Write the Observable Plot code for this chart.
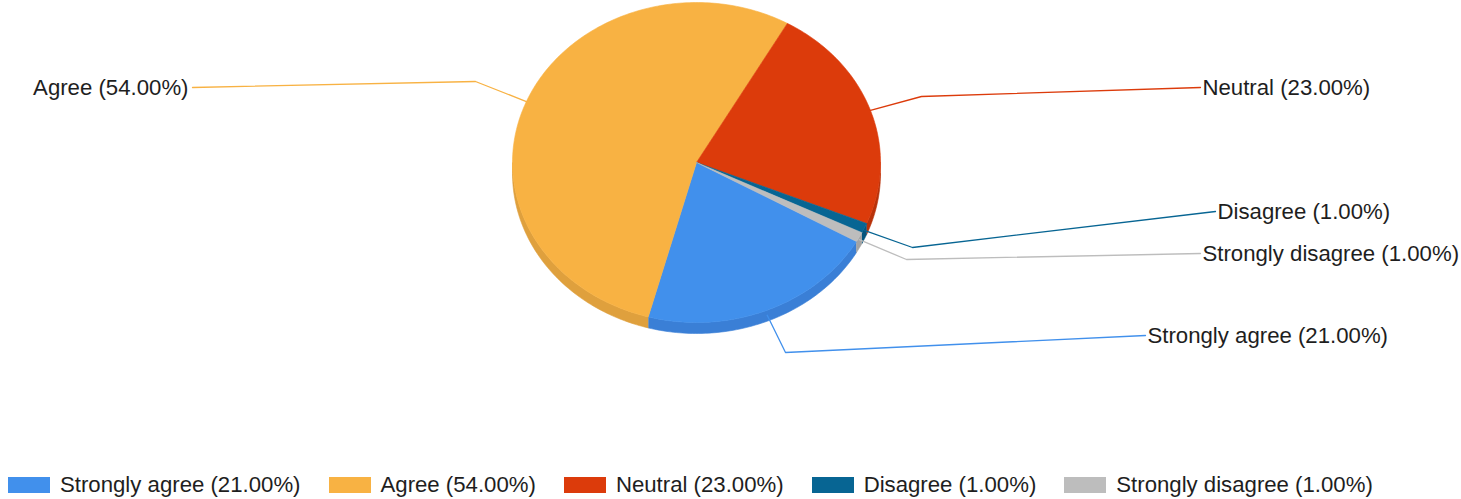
<!DOCTYPE html>
<html><head><meta charset="utf-8">
<script src="https://cdn.jsdelivr.net/npm/d3@7"></script>
<script src="https://cdn.jsdelivr.net/npm/@observablehq/plot@0.6"></script>
<style>
body{margin:0;background:#fff;font-family:"Liberation Sans",Arial,sans-serif;}
#legend{padding-left:8px;}
#legend .lg-swatch{margin-right:28px !important;}
#legend .lg-swatch > svg{margin-right:10px !important;}
</style></head><body><div id="chart"></div><div id="legend"></div>
<script>
// ---- data ----
const categories = ["Strongly agree", "Agree", "Neutral", "Disagree", "Strongly disagree"];
const values = [21, 54, 23, 1, 1];
const sliceColors = ["#4190ec", "#f8b243", "#dc3b0b", "#076593", "#bdbdbd"];
const sideColors = ["#3a7fd6", "#dfa03d", "#b8320a", "#05557d", "#a3a3a3"];
// label layout (pixels)
const labelX = [1147, 188, 1202, 1217, 1202];
const labelY = [335, 87, 87, 211, 253];
const labelAnchor = ["start", "end", "start", "start", "start"];
const elbowX = [785, 475, 921, 912, 906];
const elbowY = [352, 81, 96, 247, 259];

// ---- layout ----
const W = 1461, H = 468;
const CX = 696, CY = 162, RX = 184, RY = 160, DEPTH = 11;
const START = 119.6; // degrees clockwise from top
const FONT = '"Liberation Sans", Arial, sans-serif';
const FS = 22.2;

const total = d3.sum(values);
const fmt = v => `${(v / total * 100).toFixed(2)}%`;
const labels = categories.map((c, i) => `${c} (${fmt(values[i])})`);

function pt(deg, dy = 0) {
  const r = deg * Math.PI / 180;
  return {x: CX + RX * Math.sin(r), y: CY - RY * Math.cos(r) + dy};
}
function arc(a0, a1, dy = 0) {
  const n = Math.max(2, Math.ceil(Math.abs(a1 - a0)));
  return d3.range(n + 1).map(k => pt(a0 + (a1 - a0) * k / n, dy));
}

let acc = START;
const slices = values.map((v, i) => {
  const a0 = acc, a1 = acc + v / total * 360;
  acc = a1;
  return {i, a0, a1, mid: (a0 + a1) / 2};
});

const marks = [];
// side walls (front half: 90..270 degrees)
for (const s of slices) {
  for (const k of [-1, 0, 1]) {
    const lo = Math.max(s.a0, 90 + 360 * k), hi = Math.min(s.a1, 270 + 360 * k);
    if (hi > lo) {
      const poly = [...arc(lo, hi), ...arc(hi, lo, DEPTH)];
      marks.push(Plot.line(poly, {x: "x", y: "y", fill: sideColors[s.i], stroke: sideColors[s.i], strokeWidth: 0.6}));
    }
  }
}
// top faces
for (const s of slices) {
  const poly = [{x: CX, y: CY}, ...arc(s.a0, s.a1), {x: CX, y: CY}];
  marks.push(Plot.line(poly, {x: "x", y: "y", fill: sliceColors[s.i], stroke: sliceColors[s.i], strokeWidth: 0.6}));
}
// leader lines
for (const s of slices) {
  const r = s.mid * Math.PI / 180;
  const c = Math.cos(r);
  const a = pt(s.mid, c < 0 ? -c * DEPTH * 0.5 : 0);
  const endX = labelX[s.i] + (labelAnchor[s.i] === "start" ? -2 : 4);
  const pts = [a, {x: elbowX[s.i], y: elbowY[s.i]}, {x: endX, y: labelY[s.i]}];
  marks.push(Plot.line(pts, {x: "x", y: "y", stroke: sliceColors[s.i], strokeWidth: 1.3}));
}
// label text
const labelData = slices.map(s => ({x: labelX[s.i], y: labelY[s.i], t: labels[s.i], anchor: labelAnchor[s.i]}));
marks.push(Plot.text(labelData.filter(d => d.anchor === "start"), {x: "x", y: "y", text: "t", textAnchor: "start", fill: "#1e1e1e", fontSize: FS}));
marks.push(Plot.text(labelData.filter(d => d.anchor === "end"), {x: "x", y: "y", text: "t", textAnchor: "end", fill: "#1e1e1e", fontSize: FS}));

const chart = Plot.plot({
  width: W, height: H, margin: 0,
  x: {domain: [0, W], range: [0, W], axis: null},
  y: {domain: [0, H], range: [0, H], axis: null},
  style: {fontFamily: FONT, background: "#fff", overflow: "visible"},
  marks
});
document.getElementById("chart").appendChild(chart);

const legend = Plot.legend({
  color: {type: "ordinal", domain: labels, range: sliceColors},
  legend: "swatches",
  swatchWidth: 42, swatchHeight: 16,
  className: "lg",
  style: {fontSize: FS + "px", fontFamily: FONT, color: "#1e1e1e"}
});
document.getElementById("legend").appendChild(legend);
</script></body></html>
